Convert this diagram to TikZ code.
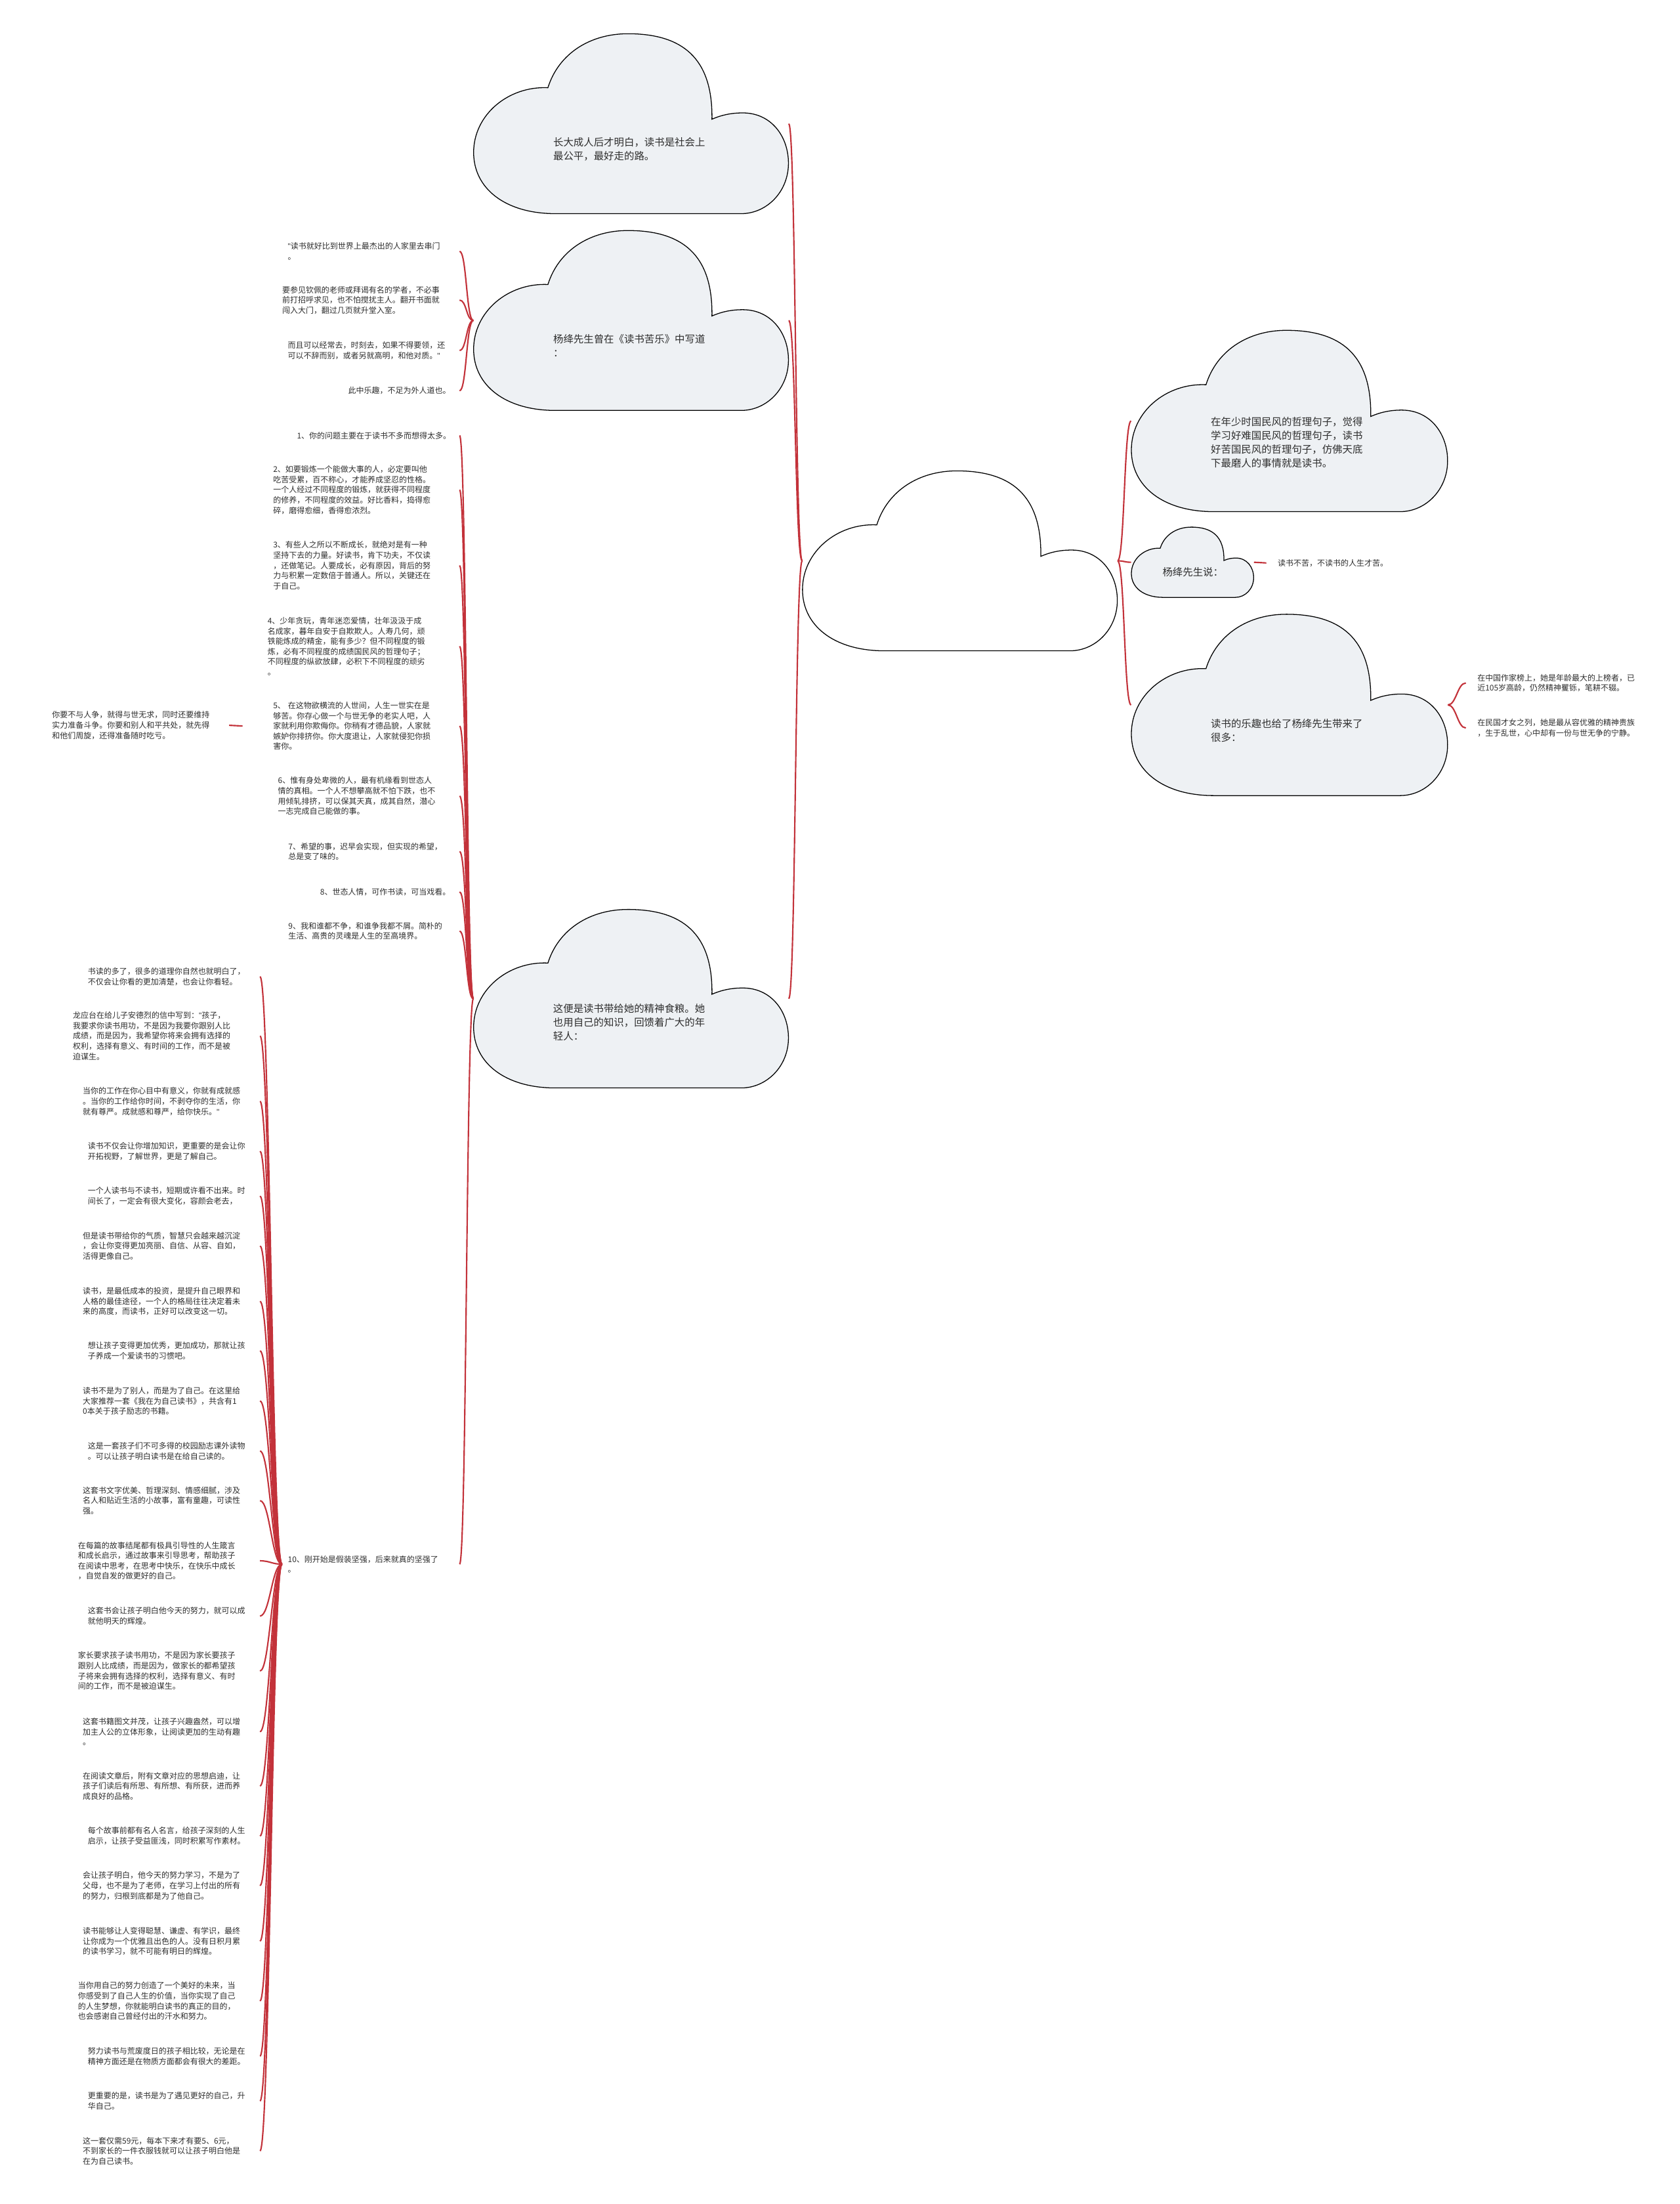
\documentclass[tikz,border=0pt]{standalone}
\usepackage{fontspec}
\setmainfont{Noto Sans CJK SC}
\newfontfamily\qfont{Liberation Sans}
\usetikzlibrary{calc}
\definecolor{linkred}{HTML}{C3323A}
\definecolor{cloudfill}{HTML}{EEF1F4}
\definecolor{txt}{HTML}{2E2E2E}
\tikzset{
  conn/.style={draw=linkred, line width=1pt},
  lt/.style={font=\fontsize{5.6}{7.3}\selectfont, text=txt, align=left, inner xsep=4pt, inner ysep=1pt, anchor=east},
  rt/.style={font=\fontsize{5.6}{7.3}\selectfont, text=txt, align=left, inner xsep=8pt, inner ysep=1pt, anchor=west},
  ct/.style={font=\fontsize{7.2}{9.8}\selectfont, text=txt, align=left, inner sep=0pt, anchor=west},
  cbox/.style={inner sep=0pt, draw=none},
}
\newcommand{\mycloud}[5]{%
\begin{scope}[shift={(#1,#2)},xscale=#3,yscale=#4]
\filldraw[fill=#5,draw=black,line width=0.6pt]
 (0.236,0.30) .. controls (0.27,0.11) and (0.37,0) .. (0.49,0)
 .. controls (0.66,0) and (0.76,0.13) .. (0.757,0.475)
 .. controls (0.79,0.45) and (0.82,0.44) .. (0.855,0.44)
 .. controls (0.945,0.44) and (1,0.57) .. (1,0.72)
 .. controls (1,0.88) and (0.93,1) .. (0.85,1)
 -- (0.26,1)
 .. controls (0.10,1) and (0,0.86) .. (0,0.66)
 .. controls (0,0.45) and (0.11,0.29) .. (0.236,0.30) -- cycle;
\end{scope}}
\newcommand{\cloudnode}[6]{%
\mycloud{#2}{#3}{#4}{#5}{#6}
\node[cbox, minimum width=#4pt, minimum height=#5pt] (#1) at ({#2+#4/2},{#3+#5/2}) {};}
\begin{document}
\begin{tikzpicture}[x=1pt,y=-1pt]
\fill[white] (0,0) rectangle (1195,1568);
\useasboundingbox (0,0) rectangle (1195,1568);

% ---------- clouds ----------
\cloudnode{root}{571}{335}{224}{128}{white}
\cloudnode{c1}{337}{24}{224}{128}{cloudfill}
\cloudnode{c2}{337}{164}{224}{128}{cloudfill}
\cloudnode{c3}{337}{647}{224}{127}{cloudfill}
\cloudnode{r1}{805}{235}{225}{129}{cloudfill}
\cloudnode{r2}{805}{375}{87}{50}{cloudfill}
\cloudnode{r3}{805}{437}{225}{129}{cloudfill}

\node[ct] (c1t) at (393.5,106) {长大成人后才明白，读书是社会上\\最公平，最好走的路。};
\node[ct] (c2t) at (393.5,246) {杨绛先生曾在《读书苦乐》中写道\\：};
\node[ct] (c3t) at (393.4,727.4) {这便是读书带给她的精神食粮。她\\也用自己的知识，回馈着广大的年\\轻人：};
\node[ct] (r1t) at (861.4,314.7) {在年少时国民风的哲理句子，觉得\\学习好难国民风的哲理句子，读书\\好苦国民风的哲理句子，仿佛天底\\下最磨人的事情就是读书。};
\node[ct] (r2t) at (827,406.8) {杨绛先生说：};
\node[ct] (r3t) at (861.4,519.7) {读书的乐趣也给了杨绛先生带来了\\很多：};

% ---------- right side texts ----------
\node[rt] (r2c) at (901,400.5) {读书不苦，不读书的人生才苦。};
\node[rt] (r3a) at (1043,485.9) {在中国作家榜上，她是年龄最大的上榜者，已\\近105岁高龄，仍然精神矍铄，笔耕不辍。};
\node[rt] (r3b) at (1043,517.9) {在民国才女之列，她是最从容优雅的精神贵族\\，生于乱世，心中却有一份与世无争的宁静。};

% ---------- children of c2 ----------
\node[lt, text width=118pt] (y1) at (327,178.8) {{\qfont"}读书就好比到世界上最杰出的人家里去串门\\。};
\node[lt, text width=122pt] (y2) at (327,213.5) {要参见钦佩的老师或拜谒有名的学者，不必事\\前打招呼求见，也不怕搅扰主人。翻开书面就\\闯入大门，翻过几页就升堂入室。};
\node[lt, text width=118pt] (y3) at (327,249.3) {而且可以经常去，时刻去，如果不得要领，还\\可以不辞而别，或者另就高明，和他对质。{\qfont"}};
\node[lt, text width=75pt] (y4) at (327,278) {此中乐趣，不足为外人道也。};

% ---------- children of c3 ----------
\node[lt, text width=111.5pt] (i1) at (327,309.8) {1、你的问题主要在于读书不多而想得太多。};
\node[lt, text width=128.4pt] (i2) at (327,348.5) {2、如要锻炼一个能做大事的人，必定要叫他\\吃苦受累，百不称心，才能养成坚忍的性格。\\一个人经过不同程度的锻炼，就获得不同程度\\的修养，不同程度的效益。好比香料，捣得愈\\碎，磨得愈细，香得愈浓烈。};
\node[lt, text width=128.4pt] (i3) at (327,402.3) {3、有些人之所以不断成长，就绝对是有一种\\坚持下去的力量。好读书，肯下功夫，不仅读\\，还做笔记。人要成长，必有原因，背后的努\\力与积累一定数倍于普通人。所以，关键还在\\于自己。};
\node[lt, text width=132.4pt] (i4) at (327,459.8) {4、少年贪玩，青年迷恋爱情，壮年汲汲于成\\名成家，暮年自安于自欺欺人。人寿几何，顽\\铁能炼成的精金，能有多少？但不同程度的锻\\炼，必有不同程度的成绩国民风的哲理句子；\\不同程度的纵欲放肆，必积下不同程度的顽劣\\。};
\node[lt, text width=128.4pt] (i5) at (327,516.5) {5、 在这物欲横流的人世间，人生一世实在是\\够苦。你存心做一个与世无争的老实人吧，人\\家就利用你欺侮你。你稍有才德品貌，人家就\\嫉妒你排挤你。你大度退让，人家就侵犯你损\\害你。};
\node[lt, text width=125pt] (i6) at (327,566.3) {6、惟有身处卑微的人，最有机缘看到世态人\\情的真相。一个人不想攀高就不怕下跌，也不\\用倾轧排挤，可以保其天真，成其自然，潜心\\一志完成自己能做的事。};
\node[lt, text width=117.6pt] (i7) at (327,605.8) {7、希望的事，迟早会实现，但实现的希望，\\总是变了味的。};
\node[lt, text width=95pt] (i8) at (327,634.5) {8、世态人情，可作书读，可当戏看。};
\node[lt, text width=117.6pt] (i9) at (327,662.4) {9、我和谁都不争，和谁争我都不屑。简朴的\\生活、高贵的灵魂是人生的至高境界。};
\node[lt, text width=118pt] (i10) at (327,1112.8) {10、刚开始是假装坚强，后来就真的坚强了\\。};

\node[lt, text width=121.7pt] (you) at (163,516) {你要不与人争，就得与世无求，同时还要维持\\实力准备斗争。你要和别人和平共处，就先得\\和他们周旋，还得准备随时吃亏。};

% ---------- children of item 10 ----------
\node[lt, text width=118.3pt] (l1) at (185,694.8) {书读的多了，很多的道理你自然也就明白了，\\不仅会让你看的更加清楚，也会让你看轻。};
\node[lt, text width=128.9pt] (l2) at (185,737) {龙应台在给儿子安德烈的信中写到：{\qfont"}孩子，\\我要求你读书用功，不是因为我要你跟别人比\\成绩，而是因为，我希望你将来会拥有选择的\\权利，选择有意义、有时间的工作，而不是被\\迫谋生。};
\node[lt, text width=121.9pt] (l3) at (185,783.5) {当你的工作在你心目中有意义，你就有成就感\\。当你的工作给你时间，不剥夺你的生活，你\\就有尊严。成就感和尊严，给你快乐。{\qfont"}};
\node[lt, text width=118.3pt] (l4) at (185,819) {读书不仅会让你增加知识，更重要的是会让你\\开拓视野，了解世界，更是了解自己。};
\node[lt, text width=118.3pt] (l5) at (185,850.9) {一个人读书与不读书，短期或许看不出来。时\\间长了，一定会有很大变化，容颜会老去，};
\node[lt, text width=121.9pt] (l6) at (185,886.4) {但是读书带给你的气质，智慧只会越来越沉淀\\，会让你变得更加亮丽、自信、从容、自如，\\活得更像自己。};
\node[lt, text width=121.9pt] (l7) at (185,925.8) {读书，是最低成本的投资，是提升自己眼界和\\人格的最佳途径，一个人的格局往往决定着未\\来的高度，而读书，正好可以改变这一切。};
\node[lt, text width=118.3pt] (l8) at (185,961) {想让孩子变得更加优秀，更加成功，那就让孩\\子养成一个爱读书的习惯吧。};
\node[lt, text width=121.9pt] (l9) at (185,996.7) {读书不是为了别人，而是为了自己。在这里给\\大家推荐一套《我在为自己读书》，共含有1\\0本关于孩子励志的书籍。};
\node[lt, text width=118.3pt] (l10) at (185,1032.3) {这是一套孩子们不可多得的校园励志课外读物\\。可以让孩子明白读书是在给自己读的。};
\node[lt, text width=121.9pt] (l11) at (185,1067.6) {这套书文字优美、哲理深刻、情感细腻，涉及\\名人和贴近生活的小故事，富有童趣，可读性\\强。};
\node[lt, text width=125.3pt] (l12) at (185,1110.4) {在每篇的故事结尾都有极具引导性的人生箴言\\和成长启示，通过故事来引导思考，帮助孩子\\在阅读中思考，在思考中快乐，在快乐中成长\\，自觉自发的做更好的自己。};
\node[lt, text width=118.3pt] (l13) at (185,1149.7) {这套书会让孩子明白他今天的努力，就可以成\\就他明天的辉煌。};
\node[lt, text width=125.3pt] (l14) at (185,1188.8) {家长要求孩子读书用功，不是因为家长要孩子\\跟别人比成绩，而是因为，做家长的都希望孩\\子将来会拥有选择的权利，选择有意义、有时\\间的工作，而不是被迫谋生。};
\node[lt, text width=121.9pt] (l15) at (185,1232) {这套书籍图文并茂，让孩子兴趣盎然，可以增\\加主人公的立体形象，让阅读更加的生动有趣\\。};
\node[lt, text width=121.9pt] (l16) at (185,1270.6) {在阅读文章后，附有文章对应的思想启迪，让\\孩子们读后有所思、有所想、有所获，进而养\\成良好的品格。};
\node[lt, text width=118.3pt] (l17) at (185,1306.2) {每个故事前都有名人名言，给孩子深刻的人生\\启示，让孩子受益匪浅，同时积累写作素材。};
\node[lt, text width=121.9pt] (l18) at (185,1341.5) {会让孩子明白，他今天的努力学习，不是为了\\父母，也不是为了老师，在学习上付出的所有\\的努力，归根到底都是为了他自己。};
\node[lt, text width=121.9pt] (l19) at (185,1381) {读书能够让人变得聪慧、谦虚、有学识，最终\\让你成为一个优雅且出色的人。没有日积月累\\的读书学习，就不可能有明日的辉煌。};
\node[lt, text width=125.3pt] (l20) at (185,1423.6) {当你用自己的努力创造了一个美好的未来，当\\你感受到了自己人生的价值，当你实现了自己\\的人生梦想，你就能明白读书的真正的目的，\\也会感谢自己曾经付出的汗水和努力。};
\node[lt, text width=118.3pt] (l21) at (185,1462.8) {努力读书与荒废度日的孩子相比较，无论是在\\精神方面还是在物质方面都会有很大的差距。};
\node[lt, text width=118.3pt] (l22) at (185,1494.7) {更重要的是，读书是为了遇见更好的自己，升\\华自己。};
\node[lt, text width=121.9pt] (l23) at (185,1530.2) {这一套仅需59元，每本下来才有要5、6元，\\不到家长的一件衣服钱就可以让孩子明白他是\\在为自己读书。};

% ---------- connectors ----------
\foreach \c in {c1,c2,c3}
  \draw[conn] (root.west) .. controls +(-5,0) and +(5,0) .. (\c.east);
\foreach \c in {r1,r2,r3}
  \draw[conn] (root.east) .. controls +(5,0) and +(-5,0) .. (\c.west);
\foreach \c in {y1,y2,y3,y4}
  \draw[conn] (c2.west) .. controls +(-5,0) and +(5,0) .. (\c.east);
\foreach \c in {i1,i2,i3,i4,i5,i6,i7,i8,i9,i10}
  \draw[conn] (c3.west) .. controls +(-5,0) and +(5,0) .. (\c.east);
\foreach \c in {l1,l2,l3,l4,l5,l6,l7,l8,l9,l10,l11,l12,l13,l14,l15,l16,l17,l18,l19,l20,l21,l22,l23}
  \draw[conn] (i10.west) .. controls +(-7,0) and +(7,0) .. (\c.east);
\draw[conn] ([xshift=-17.6pt]i5.west) -- (you.east);
\draw[conn] (r2.east) -- (r2c.west);
\foreach \c in {r3a,r3b}
  \draw[conn] (r3.east) .. controls +(6,0) and +(-6,0) .. (\c.west);
\end{tikzpicture}
\end{document}
